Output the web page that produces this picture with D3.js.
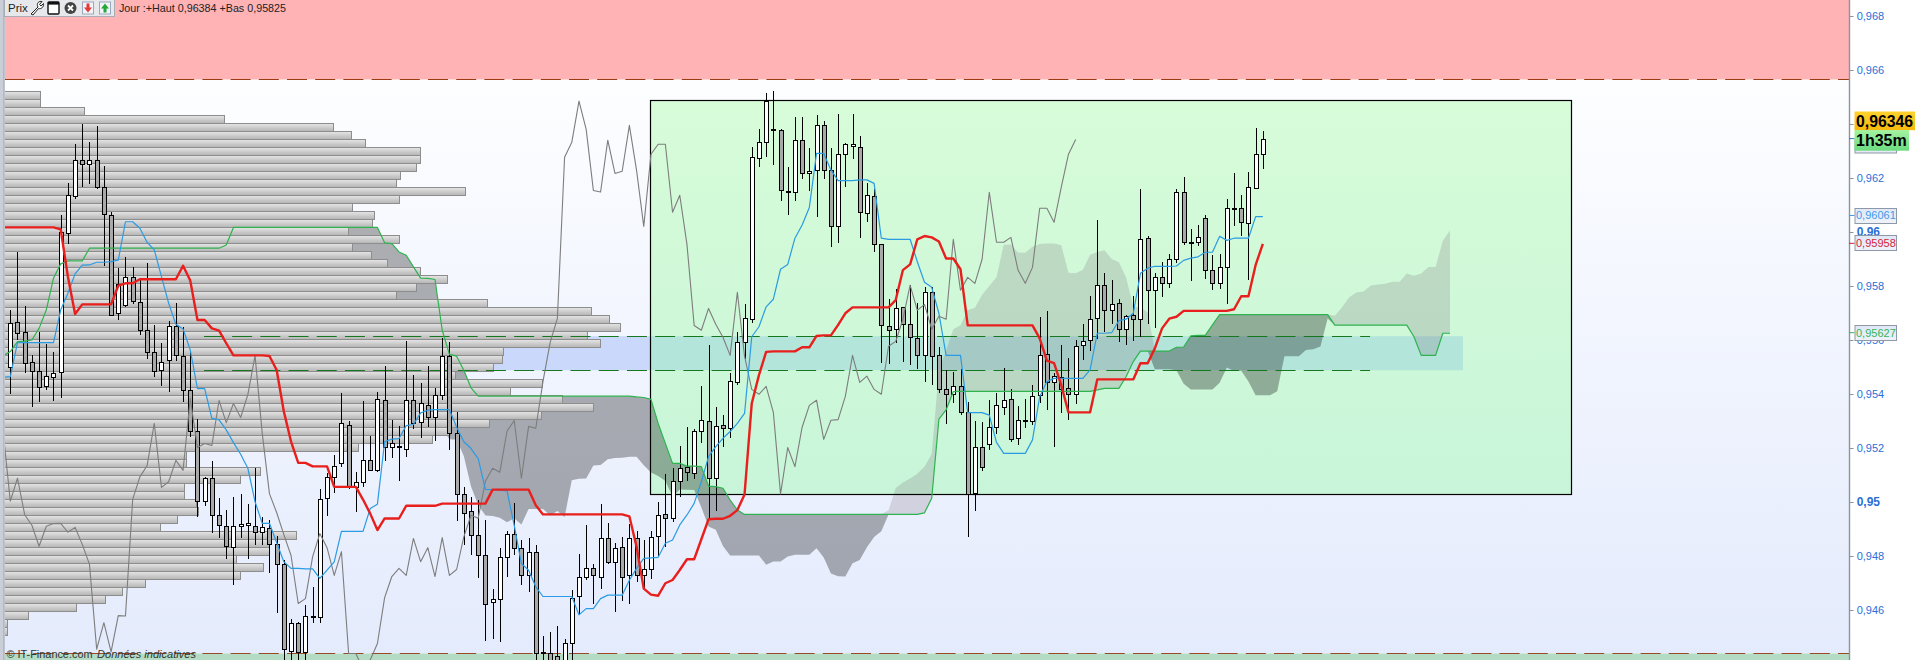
<!DOCTYPE html>
<html lang="fr">
<head>
<meta charset="utf-8">
<title>Prix</title>
<script src="https://cdn.jsdelivr.net/npm/d3@7"></script>
<style>
html,body{margin:0;padding:0;background:#fff}
svg{display:block;font-family:"Liberation Sans",Arial,sans-serif}
</style>
</head>
<body>
<svg id="c" width="1915" height="660" viewBox="0 0 1915 660"></svg>
<script>
const pt = v => v / 100000;

/* Candles, values (price x 100000) */
const open = [95501,95666,95629,95517,95487,95431,95462,95483,95998,96135,96266,96251,96266,96166,96062,95699,95729,95832,95740,95636,95554,95488,95525,95651,95540,95414,95262,95003,95088,94953,94910,94832,94910,94914,94910,94888,94903,94843,94769,94449,94550,94445,94574,94575,95013,95093,95146,95287,95056,95075,95154,95118,95379,95205,95202,95198,95379,95298,95361,95313,95398,95539,95254,95028,94965,94876,94802,94628,94639,94798,94883,94831,94728,94813,94446,94442,94431,94415,94479,94650,94724,94757,94724,94865,94776,94835,94728,94868,94728,94750,94873,94954,94940,95077,95131,95106,95262,95299,95088,95284,95273,95443,95591,95677,96273,96332,96382,96377,96150,96147,96340,96217,96228,96395,96228,96021,96288,96317,96314,96069,96132,95954,95651,95640,95721,95658,95606,95543,95777,95543,95417,95399,95428,95332,95032,95203,95214,95277,95351,95380,95236,95305,95299,95395,95547,95443,95462,95421,95399,95580,95599,95680,95803,95710,95736,95640,95691,95677,95977,95784,95832,95810,95899,96147,95962,95962,96051,95858,95810,95869,96088,96088,96032,96162,96288].map(pt);
const high = [95711,95926,95726,95545,95630,95585,95556,96063,96180,96326,96400,96334,96393,96245,96074,95867,95908,95871,95822,95884,95656,95588,95671,95737,95647,95555,95306,95094,95151,95013,94971,95017,95030,94993,95125,94943,94934,94874,94785,94568,94555,94618,94685,95047,95107,95173,95402,95299,95110,95373,95246,95408,95502,95305,95283,95598,95472,95442,95505,95424,95609,95594,95335,95056,95017,95009,94935,94679,94831,94891,94998,94861,94865,94842,94505,94520,94542,94494,94673,94809,94913,94772,94991,94924,94850,94871,94920,94891,94861,94891,95000,95104,95125,95207,95277,95269,95430,95580,95351,95321,95477,95630,95733,96314,96380,96514,96522,96380,96240,96426,96426,96310,96433,96410,96310,96437,96328,96437,96356,96180,96158,95955,95751,95788,95721,95803,95736,95798,95798,95575,95489,95483,95491,95369,95301,95296,95378,95403,95495,95417,95356,95382,95432,95684,95708,95477,95580,95532,95600,95659,95763,96043,95848,95822,95751,95694,95763,96158,95985,95847,95888,95917,96158,96203,96010,96025,96062,95915,95917,96121,96217,96136,96221,96384,96373].map(pt);
const low = [95400,95600,95479,95353,95371,95413,95375,95387,95956,96124,96168,96178,96158,95874,95692,95674,95724,95734,95617,95531,95464,95430,95409,95524,95372,95240,94946,94985,94884,94867,94790,94692,94867,94790,94840,94840,94736,94588,94385,94400,94400,94400,94553,94553,94949,95034,95128,95050,94963,95056,95115,95112,95152,95163,95078,95165,95271,95238,95276,95226,95378,95194,94928,94839,94802,94720,94487,94494,94483,94723,94802,94692,94665,94390,94390,94370,94380,94380,94396,94587,94710,94621,94676,94772,94593,94635,94624,94702,94676,94713,94798,94832,94927,95020,95079,95086,95217,94933,94968,95202,95236,95435,95528,95662,96242,96279,96247,96114,96064,96114,96195,96151,96057,96195,95943,95958,96165,96269,95977,96037,95925,95514,95510,95588,95519,95506,95491,95444,95432,95402,95289,95365,95322,94869,94965,95115,95193,95252,95322,95222,95211,95273,95285,95368,95341,95205,95331,95304,95363,95526,95561,95603,95629,95659,95593,95582,95598,95610,95659,95645,95759,95793,95884,95952,95819,95948,95826,95785,95790,95733,96022,95985,95822,96162,96233].map(pt);
const close = [95662,95625,95516,95487,95427,95466,95479,95999,96136,96266,96251,96266,96166,96066,95692,95806,95832,95743,95636,95554,95484,95520,95651,95543,95414,95262,95003,95088,94953,94914,94836,94910,94920,94921,94888,94906,94843,94769,94455,94553,94445,94579,94578,95010,95093,95134,95291,95054,95075,95154,95117,95383,95202,95217,95209,95376,95294,95365,95313,95398,95542,95254,95031,94961,94879,94802,94624,94642,94798,94883,94831,94728,94816,94439,94439,94381,94415,94476,94646,94724,94754,94728,94865,94779,94831,94724,94868,94728,94750,94871,94951,94940,95077,95125,95110,95262,95302,95088,95280,95273,95447,95591,95680,96277,96332,96485,96380,96154,96148,96340,96217,96225,96395,96228,96021,96288,96325,96325,96073,96136,95954,95654,95636,95717,95658,95610,95543,95777,95540,95417,95399,95428,95332,95030,95202,95131,95277,95358,95377,95232,95303,95305,95391,95543,95443,95466,95417,95399,95577,95595,95677,95803,95710,95732,95640,95688,95677,95973,95784,95832,95810,95899,96147,95962,95962,95980,95858,95810,95869,96088,96088,96036,96166,96288,96343].map(pt);

/* Kijun (red), from bar -1 */
const kijun = [96017,96017,96017,96017,96017,96017,96017,96017,96010,95835,95696,95732,95732,95732,95732,95732,95801,95810,95810,95825,95825,95825,95825,95825,95825,95875,95820,95674,95674,95643,95635,95588,95543,95543,95543,95543,95543,95541,95489,95335,95224,95145,95145,95132,95132,95132,95056,95056,95056,95056,95009,94957,94896,94939,94939,94939,94986,94986,94986,94986,94986,94994,94994,94994,94994,94994,94994,94994,95046,95046,95046,95046,95046,95046,94988,94954,94954,94954,94954,94954,94954,94954,94954,94954,94954,94954,94954,94947,94834,94679,94657,94653,94699,94711,94748,94788,94788,94862,94936,94938,94938,94949,94970,95028,95365,95470,95556,95558,95558,95558,95558,95573,95573,95615,95617,95617,95656,95699,95721,95721,95721,95721,95721,95721,95748,95859,95880,95973,95985,95980,95965,95902,95902,95862,95654,95654,95654,95654,95654,95654,95654,95654,95654,95654,95606,95524,95514,95433,95332,95332,95332,95332,95454,95454,95454,95454,95454,95454,95514,95514,95569,95643,95679,95686,95708,95708,95708,95708,95708,95708,95708,95714,95762,95762,95878,95956].map(pt);

/* Tenkan (blue), from bar -1 */
const tenkan = [95462,95464,95590,95590,95590,95590,95590,95590,95711,95773,95845,95877,95878,95888,95888,95890,95896,96038,96038,96014,95962,95934,95835,95736,95658,95641,95563,95420,95420,95310,95304,95267,95220,95177,95125,95001,94921,94921,94850,94779,94754,94754,94752,94752,94717,94748,94778,94891,94891,94891,94891,94976,94992,95223,95233,95235,95283,95287,95330,95340,95342,95342,95342,95278,95223,95198,95161,95047,95046,95044,95041,94914,94772,94747,94686,94650,94650,94650,94650,94650,94582,94605,94605,94642,94655,94655,94655,94710,94754,94791,94793,94795,94847,94859,94915,94952,94995,95075,95168,95205,95236,95261,95291,95328,95612,95649,95723,95751,95862,95880,95977,96026,96091,96291,96291,96230,96190,96190,96190,96193,96193,96180,95977,95973,95973,95973,95973,95890,95814,95795,95699,95543,95543,95543,95331,95331,95331,95322,95221,95180,95180,95180,95180,95230,95390,95446,95458,95458,95458,95458,95458,95489,95625,95625,95627,95672,95677,95699,95847,95866,95873,95873,95873,95874,95895,95903,95908,95925,95925,95984,95969,95977,95977,95977,96057,96057].map(pt);

/* Chikou (thin grey), from bar -1 */
const chikou = [95262,95003,95088,94953,94914,94836,94910,94920,94921,94888,94906,94843,94769,94455,94553,94445,94579,94578,95010,95093,95134,95291,95054,95075,95154,95117,95383,95202,95217,95209,95376,95294,95365,95313,95398,95542,95254,95031,94961,94879,94802,94624,94642,94798,94883,94831,94728,94816,94439,94439,94381,94415,94476,94646,94724,94754,94728,94865,94779,94831,94724,94868,94728,94750,94871,94951,94940,95077,95125,95110,95262,95302,95088,95280,95273,95447,95591,95680,96277,96332,96485,96380,96154,96148,96340,96217,96225,96395,96228,96021,96288,96325,96325,96073,96136,95954,95654,95636,95717,95658,95610,95543,95777,95540,95417,95399,95428,95332,95030,95202,95131,95277,95358,95377,95232,95303,95305,95391,95543,95443,95466,95417,95399,95577,95595,95677,95803,95710,95732,95640,95688,95677,95973,95784,95832,95810,95899,96147,95962,95962,95980,95858,95810,95869,96088,96088,96036,96166,96288,96343].map(pt);

/* Senkou B (green line), from bar -1 to bar 200 */
const senkouB = [95541,95557,95594,95596,95600,95643,95711,95829,95882,95893,95893,95893,95940,95940,95940,95940,95940,95940,95940,95940,95940,95940,95940,95940,95940,95940,95940,95940,95940,95940,95940,95952,96017,96017,96017,96017,96017,96017,96017,96017,96017,96017,96017,96017,96017,96017,96017,96017,96017,96017,96017,96017,96017,95960,95957,95926,95914,95871,95829,95828,95824,95636,95547,95540,95488,95423,95392,95392,95392,95392,95392,95392,95392,95392,95392,95392,95392,95392,95392,95392,95392,95392,95392,95392,95392,95392,95392,95392,95389,95387,95380,95291,95217,95143,95143,95133,95133,95131,95059,95057,95051,95007,94970,94954,94954,94954,94954,94954,94954,94954,94954,94954,94954,94954,94954,94954,94954,94954,94954,94954,94954,94954,94954,94954,94954,94954,94954,94954,94960,95014,95307,95341,95409,95410,95410,95410,95410,95410,95410,95410,95410,95410,95410,95410,95410,95410,95410,95410,95410,95410,95410,95410,95415,95421,95421,95421,95464,95520,95559,95559,95559,95559,95559,95573,95574,95615,95617,95617,95656,95694,95694,95694,95694,95694,95694,95694,95694,95694,95694,95694,95694,95694,95694,95694,95694,95655,95655,95655,95655,95655,95655,95655,95655,95655,95655,95655,95612,95543,95543,95543,95625,95625].map(pt);

/* Senkou A (cloud edge), from bar 25 to bar 200 */
const senkouA = [95740,95740,95804,95804,95804,95804,95804,95804,95860,95804,95770,95804,95805,95810,95810,95811,95848,95924,95924,95920,95893,95880,95830,95780,95741,95758,95691,95547,95547,95476,95470,95428,95381,95360,95334,95272,95232,95231,95170,95057,94989,94950,94948,94942,94925,94940,94917,94974,94974,94974,94950,94967,94944,95081,95086,95087,95135,95137,95158,95163,95164,95168,95168,95136,95109,95096,95078,95020,95046,95045,95044,94980,94909,94897,94837,94802,94802,94802,94802,94802,94768,94780,94780,94798,94805,94805,94805,94829,94794,94735,94725,94724,94773,94785,94832,94870,94892,94969,95052,95072,95087,95105,95131,95178,95489,95560,95640,95655,95710,95719,95768,95800,95832,95953,95954,95924,95923,95945,95956,95957,95957,95951,95849,95847,95860,95916,95926,95932,95900,95888,95832,95722,95722,95702,95492,95492,95492,95488,95438,95417,95417,95417,95417,95442,95498,95485,95486,95446,95395,95395,95395,95410,95540,95540,95540,95563,95566,95576,95680,95690,95721,95758,95776,95780,95802,95806,95808,95816,95816,95846,95838,95846,95870,95870,95968,96006].map(pt);

/* Volume-at-price profile, one value per price row from the top row down */
const volume = [35,35,79,219,328,346,360,415,415,411,395,391,460,394,347,369,367,343,394,347,366,382,415,442,411,391,482,586,604,615,582,595,498,497,488,450,537,505,557,588,536,484,445,427,353,181,181,255,235,179,179,191,193,172,155,291,264,264,231,258,235,140,117,100,71,23,2,2];
const profileTop = 0.96521, profileStep = 0.0002963;

const tickValues = [0.968,0.966,0.964,0.962,0.96,0.958,0.956,0.954,0.952,0.95,0.948,0.946];
const tickLabels = ["0,968","0,966","0,964","0,962","0,96","0,958","0,956","0,954","0,952","0,95","0,948","0,946"];
const boldTicks = ["0,96","0,95"];

const resistance = 0.96565, support = 0.94439;
const bandTop = 0.95614, bandBottom = 0.95488;
const boxTop = 0.96488, boxBottom = 0.95028;
const boxFirstBar = 88.9, boxLastBar = 216.9;
const bandFirstBar = 26.9, bandLastBar = 201.8, bandDashLastBar = 188.9;
const labelBoxes = [
  {text:"0,96061", value:0.96061, color:"#3f9be8"},
  {text:"0,95958", value:0.95958, color:"#d61f3a"},
  {text:"0,95627", value:0.95627, color:"#35b558"}
];
const lastPrice = "0,96346", lastPriceValue = 0.96346, countdown = "1h35m";
const headerText = "Jour :+Haut 0,96384 +Bas 0,95825";
const footerBrand = "© IT-Finance.com", footerNote = "Données indicatives";

const svg = d3.select("#c");
const W = 1915, H = 660, L = 5, R = 1849;
const y = d3.scaleLinear().domain([0.968,0.946]).range([16,610]);
const x = d3.scaleLinear().domain([0,200]).range([10.3,1450]);
const vx = d3.scaleLinear().domain([0,1000]).range([L,L+1000]);
const sy = v => Math.round(y(v)) + 0.5;

const defs = svg.append("defs");
function grad(id, stops){
  const g = defs.append("linearGradient").attr("id",id).attr("x1",0).attr("x2",0).attr("y1",0).attr("y2",1);
  stops.forEach(s=>g.append("stop").attr("offset",s[0]).attr("stop-color",s[1]));
}
grad("bg",[[0,"#fdfeff"],[0.5,"#f0f4fe"],[1,"#e4ebfc"]]);
grad("box",[[0,"#d7fcd8"],[1,"#c8f5d9"]]);
grad("bar",[[0,"#e6e6e6"],[1,"#b4b4b4"]]);
grad("gold",[[0,"#ffd22e"],[1,"#f7b90c"]]);
grad("time",[[0,"#a5f29f"],[1,"#6bdc80"]]);
grad("lab",[[0,"#dfe8f8"],[1,"#eef2fa"]]);
defs.append("clipPath").attr("id","plot").append("rect").attr("x",L).attr("y",0).attr("width",R-L).attr("height",H);

const plot = svg.append("g").attr("clip-path","url(#plot)");

/* background and zones */
plot.append("rect").attr("x",L).attr("y",y(resistance)).attr("width",R-L).attr("height",y(support)-y(resistance)).attr("fill","url(#bg)");
plot.append("rect").attr("x",L).attr("y",0).attr("width",R-L).attr("height",y(resistance)).attr("fill","#ffb3b5");
plot.append("rect").attr("x",L).attr("y",y(support)).attr("width",R-L).attr("height",H-y(support)).attr("fill","#b4dcc4");

/* green rectangle */
const boxX0 = x(boxFirstBar), boxX1 = x(boxLastBar);
plot.append("rect").attr("x",boxX0).attr("y",y(boxTop)).attr("width",boxX1-boxX0).attr("height",y(boxBottom)-y(boxTop)).attr("fill","url(#box)");

/* zone band: bluish over the page, teal inside the green rectangle */
plot.append("rect").attr("x",x(bandFirstBar)).attr("y",y(bandTop)).attr("width",boxX0-x(bandFirstBar)).attr("height",y(bandBottom)-y(bandTop)).attr("fill","#c9d8fb");
plot.append("rect").attr("x",boxX0).attr("y",y(bandTop)).attr("width",x(bandLastBar)-boxX0).attr("height",y(bandBottom)-y(bandTop)).attr("fill","#b3e5da");

/* cloud */
const bars = d3.range(25,201);
const bAt = i => senkouB[i+1], aAt = i => senkouA[i-25];
const cloudLight = d3.area().x(i=>x(i)).y0(i=>y(bAt(i))).y1(i=>y(Math.max(aAt(i),bAt(i))));
const cloudDark  = d3.area().x(i=>x(i)).y0(i=>y(bAt(i))).y1(i=>y(Math.min(aAt(i),bAt(i))));
plot.append("path").attr("d",cloudLight(bars)).attr("fill","rgb(110,90,110)").attr("fill-opacity",0.2);
plot.append("path").attr("d",cloudDark(bars)).attr("fill","#000").attr("fill-opacity",0.3);

/* box outline */
plot.append("rect").attr("x",Math.round(boxX0)+0.5).attr("y",sy(boxTop)).attr("width",Math.round(boxX1-boxX0)).attr("height",sy(boxBottom)-sy(boxTop)).attr("fill","none").attr("stroke","#000").attr("stroke-width",1.2);

/* volume profile */
plot.append("g").attr("shape-rendering","crispEdges").selectAll("rect").data(volume).join("rect")
  .attr("x",L-1).attr("y",(d,k)=>sy(profileTop-k*profileStep))
  .attr("width",d=>vx(d)-L+1).attr("height",8)
  .attr("fill","url(#bar)").attr("stroke","#8d8d8d").attr("stroke-width",1);

/* dashed levels */
function dash(v,x0,x1,color){
  plot.append("line").attr("x1",x0).attr("x2",x1).attr("y1",sy(v)).attr("y2",sy(v))
    .attr("stroke",color).attr("stroke-width",1.1).attr("stroke-dasharray","20 8.2");
}
dash(resistance,L,R,"#9a3b12");
dash(support,L,R,"#9a4a22");
dash(bandTop,x(bandFirstBar),x(bandDashLastBar),"#15781f");
dash(bandBottom,x(bandFirstBar),x(bandDashLastBar),"#15781f");

/* candles */
const idx = d3.range(open.length);
const cx = i => Math.round(x(i)) + 0.5;
const cg = plot.append("g").attr("shape-rendering","crispEdges");
cg.selectAll("line").data(idx).join("line")
  .attr("x1",cx).attr("x2",cx).attr("y1",i=>y(high[i])).attr("y2",i=>y(low[i]))
  .attr("stroke","#000").attr("stroke-width",1);
cg.selectAll("rect").data(idx).join("rect")
  .attr("x",i=>cx(i)-2).attr("width",4)
  .attr("y",i=>sy(Math.max(open[i],close[i])))
  .attr("height",i=>Math.max(1,sy(Math.min(open[i],close[i]))-sy(Math.max(open[i],close[i]))))
  .attr("fill",i=>close[i]>=open[i]?"#ffffff":"#a9a9a9")
  .attr("stroke","#000").attr("stroke-width",1);

/* indicator lines */
const lineFrom = first => d3.line().x((d,i)=>x(first+i)).y(d=>y(d));
function draw(data,first,color,w){
  plot.append("path").attr("d",lineFrom(first)(data)).attr("fill","none")
    .attr("stroke",color).attr("stroke-width",w).attr("stroke-linejoin","round");
}
draw(chikou,-1,"#7d7d7d",1.1);
draw(senkouB,-1,"#2fb34f",1.2);
draw(tenkan,-1,"#2b9be3",1.2);
draw(kijun,-1,"#e81f1c",2.4);

/* left strip */
svg.append("rect").attr("x",0).attr("y",0).attr("width",4.5).attr("height",H).attr("fill","#c9ced8");
svg.append("rect").attr("x",3.5).attr("y",0).attr("width",1).attr("height",H).attr("fill","#9aa3b0");

/* axis */
const axis = d3.axisRight(y).tickValues(tickValues).tickSize(4).tickPadding(3.2).tickFormat((d,i)=>tickLabels[i]);
const ag = svg.append("g").attr("transform",`translate(${R+0.5},0)`).call(axis);
ag.select(".domain").remove();
ag.selectAll("line").attr("stroke","#8b95a2");
ag.selectAll("text").attr("fill","#2a6fd6")
  .attr("font-family","'Liberation Sans',Arial,sans-serif")
  .attr("font-weight",(d,i)=>boldTicks.includes(tickLabels[i])?"bold":"normal")
  .style("font-size",(d,i)=>boldTicks.includes(tickLabels[i])?"12px":"11px");
svg.append("line").attr("x1",R+0.5).attr("x2",R+0.5).attr("y1",0).attr("y2",H).attr("stroke","#8b95a2").attr("stroke-width",1.4);

/* value labels */
const LX = 1854.5;
svg.append("line").attr("x1",R).attr("x2",LX).attr("y1",y(lastPriceValue)).attr("y2",y(lastPriceValue)).attr("stroke","#2a7fc9");
svg.append("rect").attr("x",LX+.5).attr("y",139).attr("width",41.5).attr("height",14).attr("fill","#e4e9f4").attr("stroke","#8f98a6");
labelBoxes.forEach(b=>{
  const yy = y(b.value);
  svg.append("line").attr("x1",R).attr("x2",LX).attr("y1",yy).attr("y2",yy).attr("stroke",b.color);
  svg.append("rect").attr("x",LX+.5).attr("y",Math.round(yy)-7.5).attr("width",41.5).attr("height",15)
    .attr("fill","url(#lab)").attr("stroke","#8f98a6").attr("stroke-width",1);
  svg.append("text").attr("x",LX+1.5).attr("y",yy).attr("dy","0.36em").attr("font-size",11).attr("fill",b.color).text(b.text);
});
svg.append("rect").attr("x",LX).attr("y",111.5).attr("width",W-LX).attr("height",18.7).attr("fill","url(#gold)");
svg.append("text").attr("x",LX+1.5).attr("y",120.8).attr("dy","0.36em").attr("font-size",16).attr("font-weight","bold").attr("fill","#000").attr("textLength",57).attr("lengthAdjust","spacingAndGlyphs").text(lastPrice);
svg.append("rect").attr("x",LX).attr("y",130).attr("width",54.5).attr("height",20.7).attr("fill","url(#time)");
svg.append("text").attr("x",LX+1.5).attr("y",140.5).attr("dy","0.36em").attr("font-size",16).attr("font-weight","bold").attr("fill","#000").text(countdown);

/* toolbar */
svg.append("rect").attr("x",4.5).attr("y",-1).attr("width",110).attr("height",17.5).attr("fill","#e7e8ec").attr("stroke","#a9adb5");
svg.append("text").attr("x",8).attr("y",8.3).attr("dy","0.36em").attr("font-size",11.5).attr("fill","#222").text("Prix");
svg.append("path").attr("d","M31 14 L38 7 C36 3 39 1 42 1.5 L39.5 4.5 L41 6 L43.5 3.5 C44 7 41 9.5 38.5 8.5 L33 15 Z").attr("fill","#fff").attr("stroke","#222").attr("stroke-width",1);
svg.append("rect").attr("x",48).attr("y",2).attr("width",11).attr("height",12).attr("rx",1).attr("fill","#fff").attr("stroke","#111").attr("stroke-width",1.4);
svg.append("rect").attr("x",48).attr("y",2).attr("width",11).attr("height",2.6).attr("fill","#111");
svg.append("circle").attr("cx",70.5).attr("cy",8).attr("r",6).attr("fill","#444");
svg.append("path").attr("d","M68 5.5 L73 10.5 M73 5.5 L68 10.5").attr("stroke","#fff").attr("stroke-width",1.8);
svg.append("rect").attr("x",82.5).attr("y",2).attr("width",11).attr("height",12).attr("fill","#f1f3f7").attr("stroke","#9aa8bd");
svg.append("path").attr("d","M86.5 3.5 H89.5 V7.5 H92 L88 12.5 L84 7.5 H86.5 Z").attr("fill","#e23a3a");
svg.append("rect").attr("x",99.5).attr("y",2).attr("width",11).attr("height",12).attr("fill","#f1f3f7").attr("stroke","#9aa8bd");
svg.append("path").attr("d","M105 3.5 L109 8.5 H106.5 V12.5 H103.5 V8.5 H101 Z").attr("fill","#25a83a");
svg.append("text").attr("x",119).attr("y",8.3).attr("dy","0.36em").attr("font-size",11.5).attr("fill","#222").attr("textLength",167).attr("lengthAdjust","spacingAndGlyphs").text(headerText);

/* footer */
svg.append("text").attr("x",6.5).attr("y",654).attr("dy","0.36em").attr("font-size",11.2).attr("fill","#333").attr("textLength",86).attr("lengthAdjust","spacingAndGlyphs").text(footerBrand);
svg.append("text").attr("x",97).attr("y",654).attr("dy","0.36em").attr("font-size",11.5).attr("font-style","italic").attr("fill","#333").attr("textLength",99).attr("lengthAdjust","spacingAndGlyphs").text(footerNote);
</script>
</body>
</html>
